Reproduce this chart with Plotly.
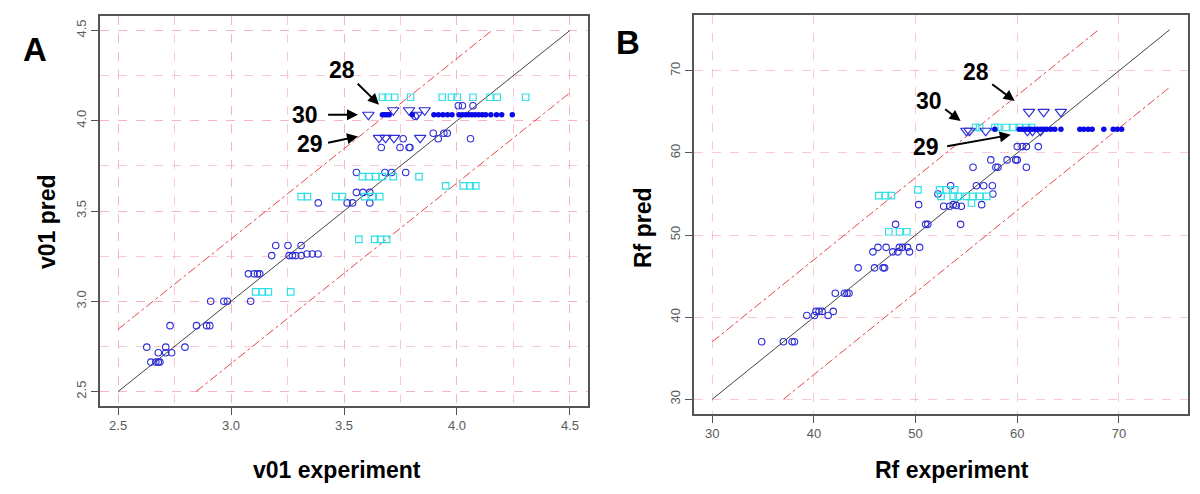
import numpy as np
import plotly.graph_objects as go

# ---------------- Panel A data (v01) ----------------
a_circ_x = [2.627, 2.645, 2.667, 2.678, 2.685, 2.678, 2.711, 2.711, 2.737, 2.730, 2.796, 2.847, 2.892, 2.906,
            2.910, 2.968, 2.984, 3.087, 3.077, 3.102, 3.117, 3.127, 3.180, 3.198, 3.252, 3.310, 3.257, 3.272,
            3.286, 3.311, 3.336, 3.360, 3.385, 3.386, 3.514, 3.538, 3.614, 3.555, 3.584, 3.614, 3.555, 3.681,
            3.711, 3.773, 3.665, 3.748, 3.792, 3.788, 3.762, 3.917, 4.060, 3.895, 3.942, 3.957, 4.006, 4.024,
            4.071, 3.815]
a_circ_y = [2.746, 2.663, 2.663, 2.663, 2.663, 2.715, 2.746, 2.715, 2.715, 2.865, 2.746, 2.865, 2.865, 2.865,
            3.000, 3.000, 3.000, 3.000, 3.152, 3.152, 3.152, 3.152, 3.253, 3.309, 3.309, 3.309, 3.253, 3.253,
            3.253, 3.253, 3.262, 3.262, 3.262, 3.545, 3.545, 3.545, 3.545, 3.603, 3.603, 3.603, 3.713, 3.713,
            3.713, 3.713, 3.852, 3.852, 3.852, 3.852, 3.900, 3.900, 3.900, 3.931, 3.931, 3.931, 4.083, 4.083,
            4.083, 4.025]

a_sq_x = [3.109, 3.138, 3.165, 3.264, 3.566, 3.636, 3.662, 3.689, 3.311, 3.338, 3.463, 3.493, 3.592, 3.625,
          3.658, 3.581, 3.611, 3.640, 3.670, 3.718, 3.832, 3.950, 4.028, 4.058, 4.083, 3.670, 3.696, 3.724,
          3.795, 3.935, 3.976, 4.001, 4.071, 4.146, 4.178, 4.304]
a_sq_y = [3.052, 3.052, 3.052, 3.052, 3.343, 3.343, 3.343, 3.343, 3.580, 3.580, 3.580, 3.580, 3.580, 3.580,
          3.580, 3.690, 3.690, 3.690, 3.690, 3.690, 3.690, 3.639, 3.639, 3.639, 3.639, 4.130, 4.130, 4.130,
          4.130, 4.130, 4.130, 4.130, 4.130, 4.130, 4.130, 4.130]

a_tri_x = [3.608, 3.718, 3.788, 3.822, 3.857, 3.655, 3.684, 3.721, 3.837]
a_tri_y = [4.033, 4.058, 4.058, 4.033, 4.058, 3.905, 3.905, 3.905, 3.905]

a_dot_x = [3.670, 3.680, 3.690, 3.700, 3.802, 3.898, 3.918, 3.938, 3.958, 3.978, 4.009, 4.024, 4.038, 4.052,
           4.066, 4.080, 4.096, 4.112, 4.127, 4.150, 4.175, 4.198, 4.245]
a_dot_y = [4.033] * len(a_dot_x)

a_limits = [2.5, 4.5]
a_band = 0.345
a_ticks = [2.5, 3.0, 3.5, 4.0, 4.5]
a_tick_text = ["2.5", "3.0", "3.5", "4.0", "4.5"]

# ---------------- Panel B data (Rf) ----------------
b_circ_x = [34.86, 37.0, 37.85, 38.08, 39.3, 40.05, 41.4, 40.2, 40.5, 40.8, 41.9, 42.1, 43.0, 43.25, 43.45,
            44.35, 45.96, 46.8, 46.95, 45.8, 47.76, 48.26, 49.4, 46.3, 47.1, 48.4, 48.7, 49.2, 50.4, 48.03,
            50.99, 51.2, 54.43, 50.3, 52.76, 53.35, 53.7, 54.5, 56.5, 54.0, 52.2, 57.6, 53.45, 55.98, 56.7,
            57.55, 55.65, 57.9, 58.1, 60.9, 57.4, 59.0, 59.85, 60.0, 60.0, 60.5, 60.9, 62.07]
b_circ_y = [37.0, 37.0, 37.0, 37.0, 40.2, 40.2, 40.2, 40.7, 40.7, 40.7, 40.7, 42.9, 42.9, 42.9, 42.9,
            46.0, 46.0, 46.0, 46.0, 47.95, 47.95, 47.95, 47.95, 48.5, 48.5, 48.5, 48.5, 48.5, 48.5, 51.3,
            51.3, 51.3, 51.3, 53.7, 53.5, 53.5, 53.7, 53.5, 53.7, 53.6, 55.0, 55.0, 56.0, 56.0, 56.0,
            56.0, 58.26, 58.26, 58.26, 58.26, 59.15, 59.15, 59.15, 59.15, 60.77, 60.77, 60.77, 60.77]

b_sq_x = [46.38, 47.04, 47.6, 47.37, 48.42, 49.14, 50.23, 52.36, 53.02, 53.84, 52.5, 53.7, 54.2, 55.0, 55.6,
          56.3, 57.0, 55.5, 55.9, 56.3, 57.8, 58.1, 58.9, 59.6, 60.2, 60.9, 61.4]
b_sq_y = [54.8, 54.8, 54.8, 50.4, 50.4, 50.4, 55.5, 55.5, 55.5, 55.5, 54.7, 54.7, 54.7, 54.7, 54.7,
          54.7, 54.7, 53.9, 63.1, 63.1, 63.1, 63.1, 63.1, 63.1, 63.1, 63.1, 63.1]

b_tri_x = [61.16, 62.6, 64.29, 55.0, 55.3, 56.9, 61.0, 61.5, 62.3]
b_tri_y = [65.0, 65.0, 65.0, 62.7, 62.7, 62.7, 62.7, 62.7, 62.7]

b_dot_x = [57.8, 60.2, 60.5, 60.8, 61.1, 61.4, 61.7, 62.0, 62.3, 62.6, 62.9, 63.3, 63.7, 64.3, 66.16, 66.55,
           66.98, 67.37, 68.52, 69.44, 69.84, 70.27]
b_dot_y = [62.88] * len(b_dot_x)

b_limits = [30, 75]
b_band = 7.0
b_ticks = [30, 40, 50, 60, 70]
b_tick_text = ["30", "40", "50", "60", "70"]

# ---------------- styles ----------------
BLUE = "#2e2ed6"
DOTBLUE = "#0a0ae8"
CYAN = "#2ee0e6"
RED = "rgba(228,50,50,0.9)"
GRID = "rgba(246,170,186,0.65)"
AXC = "#555555"
FONT = "Liberation Sans, Arial, sans-serif"

# page body has an 8px margin: figure sized so it ends at the window edge
OFF = 8
W, H = 1200 - OFF, 494 - OFF


def px(x):
    return (x - OFF) / W


def py(y):
    return 1 - (y - OFF) / H


fig = go.Figure()


def add_panel(xa, ya, cx, cy, sx, sy, tx, ty, dx, dy, lim, band):
    lo, hi = lim
    d = np.array([lo, hi], dtype=float)
    fig.add_trace(go.Scatter(x=d, y=d, mode="lines", line=dict(color="#444444", width=1),
                             xaxis=xa, yaxis=ya, hoverinfo="skip"))
    ux = np.array([lo, hi - band])
    fig.add_trace(go.Scatter(x=ux, y=ux + band, mode="lines", line=dict(color=RED, width=1, dash="dashdot"),
                             xaxis=xa, yaxis=ya, hoverinfo="skip"))
    lx = np.array([lo + band, hi])
    fig.add_trace(go.Scatter(x=lx, y=lx - band, mode="lines", line=dict(color=RED, width=1, dash="dashdot"),
                             xaxis=xa, yaxis=ya, hoverinfo="skip"))
    fig.add_trace(go.Scatter(x=cx, y=cy, mode="markers", xaxis=xa, yaxis=ya,
                             marker=dict(symbol="circle-open", size=6.5, color=BLUE, line=dict(width=1.1, color=BLUE))))
    fig.add_trace(go.Scatter(x=sx, y=sy, mode="markers", xaxis=xa, yaxis=ya,
                             marker=dict(symbol="square-open", size=6.5, color=CYAN, line=dict(width=1.2, color=CYAN))))
    fig.add_trace(go.Scatter(x=tx, y=ty, mode="markers", xaxis=xa, yaxis=ya,
                             marker=dict(symbol="triangle-down-open", size=10, color=BLUE, line=dict(width=1.2, color=BLUE))))
    fig.add_trace(go.Scatter(x=dx, y=dy, mode="markers", xaxis=xa, yaxis=ya,
                             marker=dict(symbol="circle", size=5.5, color=DOTBLUE, line=dict(width=0))))


add_panel("x", "y", a_circ_x, a_circ_y, a_sq_x, a_sq_y, a_tri_x, a_tri_y, a_dot_x, a_dot_y, a_limits, a_band)
add_panel("x2", "y2", b_circ_x, b_circ_y, b_sq_x, b_sq_y, b_tri_x, b_tri_y, b_dot_x, b_dot_y, b_limits, b_band)


def axis(domain, rng, ticks, text, minor_dtick=None, angle=0, anchor=None):
    d = dict(domain=domain, range=rng, tickmode="array", tickvals=ticks, ticktext=text,
             showgrid=True, gridcolor=GRID, griddash="dash", gridwidth=1, zeroline=False,
             showline=True, linecolor=AXC, linewidth=1.5, mirror=True,
             ticks="outside", ticklen=7, tickcolor=AXC, tickwidth=1,
             tickfont=dict(family=FONT, size=13, color="#5a5a5a"), tickangle=angle, anchor=anchor)
    if minor_dtick:
        d["minor"] = dict(dtick=minor_dtick, tick0=ticks[0], showgrid=True, gridcolor=GRID,
                          griddash="dash", gridwidth=1, ticks="")
    return d


pad_a = 0.04 * (a_limits[1] - a_limits[0])
pad_b = 0.04 * (b_limits[1] - b_limits[0])
rng_a = [a_limits[0] - pad_a, a_limits[1] + pad_a]
rng_b = [b_limits[0] - pad_b, b_limits[1] + pad_b]

fig.update_layout(
    width=W, height=H, margin=dict(l=0, r=0, t=0, b=0),
    paper_bgcolor="white", plot_bgcolor="white", showlegend=False,
    xaxis=axis([px(100), px(588)], rng_a, a_ticks, a_tick_text, 0.25, 0, "y"),
    yaxis=axis([py(406), py(16)], rng_a, a_ticks, a_tick_text, 0.25, -90, "x"),
    xaxis2=axis([px(694), px(1188)], rng_b, b_ticks, b_tick_text, None, 0, "y2"),
    yaxis2=axis([py(414), py(15)], rng_b, b_ticks, b_tick_text, None, -90, "x2"),
)

BOLD = dict(family=FONT, size=23, color="black", weight="bold")
BIG = dict(family=FONT, size=33, color="black", weight="bold")
ann = []


def ptext(txt, x, y, font, angle=0):
    ann.append(dict(text=txt, x=px(x), y=py(y), xref="paper", yref="paper", showarrow=False,
                    xanchor="center", yanchor="middle", textangle=angle, font=font))


ptext("A", 35, 50, BIG)
ptext("B", 628, 43, BIG)
ptext("v01 experiment", 337, 470, BOLD)
ptext("v01 pred", 47, 222, BOLD, -90)
ptext("Rf experiment", 952, 470, BOLD)
ptext("Rf pred", 643, 228, BOLD, -90)

LAB = dict(family=FONT, size=23, color="black", weight="bold")


def label(txt, xr, yr, x, y):
    ann.append(dict(text=txt, x=x, y=y, xref=xr, yref=yr, showarrow=False,
                    xanchor="center", yanchor="middle", font=LAB))


def arrow(xr, yr, x0, y0, x1, y1):
    ann.append(dict(text="", x=x1, y=y1, ax=x0, ay=y0, xref=xr, yref=yr, axref=xr, ayref=yr,
                    showarrow=True, arrowhead=2, arrowsize=1.1, arrowwidth=2, arrowcolor="black"))


label("28", "x", "y", 3.492, 4.283)
arrow("x", "y", 3.554, 4.213, 3.655, 4.089)
label("30", "x", "y", 3.327, 4.033)
arrow("x", "y", 3.423, 4.033, 3.562, 4.033)
label("29", "x", "y", 3.348, 3.872)
arrow("x", "y", 3.423, 3.876, 3.562, 3.913)

label("28", "x2", "y2", 55.91, 69.91)
arrow("x2", "y2", 57.39, 68.5, 59.75, 66.34)
label("30", "x2", "y2", 51.31, 66.38)
arrow("x2", "y2", 52.76, 65.45, 54.43, 63.9)
label("29", "x2", "y2", 51.05, 60.77)
arrow("x2", "y2", 52.96, 60.77, 59.36, 62.2)

fig.update_layout(annotations=ann)
fig.write_html("out.html")
